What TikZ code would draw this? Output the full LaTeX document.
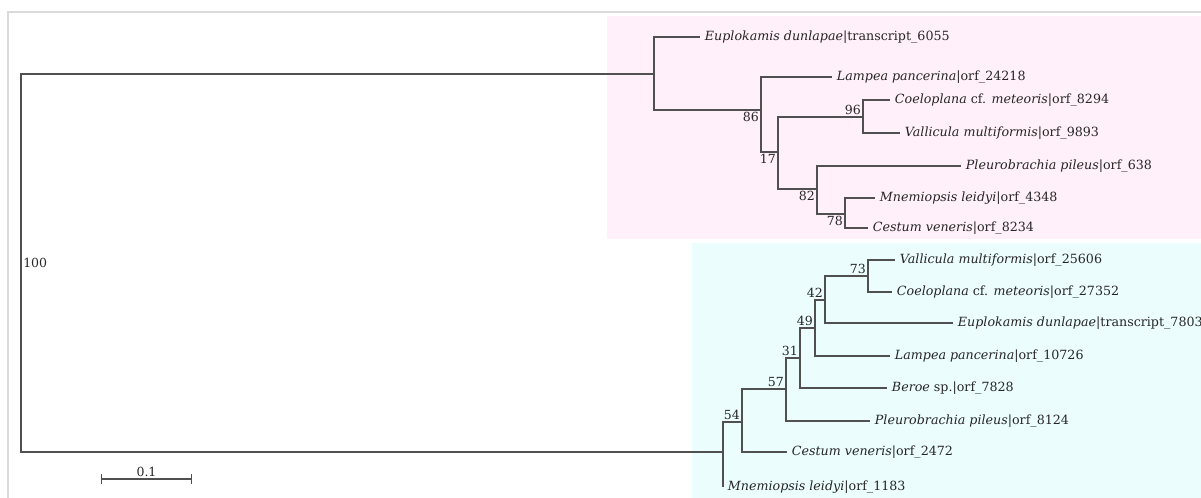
\documentclass[tikz,border=0pt]{standalone}
\usepackage{fontspec}
\setmainfont{DejaVu Serif}
\usepackage{tikz}
\usetikzlibrary{arrows.meta,calc}
\definecolor{cladepink}{RGB}{255,240,249}
\definecolor{cladecyan}{RGB}{236,253,254}
\definecolor{framegray}{RGB}{218,218,218}
\definecolor{branchgray}{RGB}{80,80,80}

\begin{document}
\begin{tikzpicture}[x=0.75pt, y=-0.75pt,
  branch/.style={line width=1.1pt, branchgray},
  leaf/.style={anchor=west, inner sep=3.5pt, text=black!85, font=\fontsize{9.5}{10}\selectfont},
  support/.style={inner sep=1.5pt, text=black!85, font=\fontsize{9.4}{10}\selectfont}]
\useasboundingbox (0,0) rectangle (1201,498);
\fill[cladepink] (607,16) rectangle (1201,239);
\fill[cladecyan] (692,243) rectangle (1201,498);
\draw[framegray, line width=0.9pt] (8,498) -- (8,12) -- (1201,12);

% inner nodes
\coordinate (root) at (21,263);
\coordinate (top) at (654,74);
\coordinate (n86) at (761,110);
\coordinate (n17) at (778,152);
\coordinate (n96) at (863,117);
\coordinate (n82) at (817,189);
\coordinate (n78) at (845,214);
\coordinate (bot) at (723,452);
\coordinate (n54) at (742,422);
\coordinate (n57) at (786,389);
\coordinate (n31) at (800,358);
\coordinate (n49) at (815,328);
\coordinate (n42) at (825,300);
\coordinate (n73) at (868,276);

% leaves
\node[leaf] (eupA) at (700,37) {\textit{Euplokamis dunlapae}|transcript\_6055};
\node[leaf] (lamA) at (832,77) {\textit{Lampea pancerina}|orf\_24218};
\node[leaf] (coeA) at (890,100) {\textit{Coeloplana} cf. \textit{meteoris}|orf\_8294};
\node[leaf] (valA) at (900,133) {\textit{Vallicula multiformis}|orf\_9893};
\node[leaf] (pleA) at (961,166) {\textit{Pleurobrachia pileus}|orf\_638};
\node[leaf] (mneA) at (875,198) {\textit{Mnemiopsis leidyi}|orf\_4348};
\node[leaf] (cesA) at (868,228) {\textit{Cestum veneris}|orf\_8234};
\node[leaf] (valB) at (895,260) {\textit{Vallicula multiformis}|orf\_25606};
\node[leaf] (coeB) at (892,292) {\textit{Coeloplana} cf. \textit{meteoris}|orf\_27352};
\node[leaf] (eupB) at (953,323) {\textit{Euplokamis dunlapae}|transcript\_7803};
\node[leaf] (lamB) at (890,356) {\textit{Lampea pancerina}|orf\_10726};
\node[leaf] (berB) at (887,388) {\textit{Beroe} sp.|orf\_7828};
\node[leaf] (pleB) at (870,421) {\textit{Pleurobrachia pileus}|orf\_8124};
\node[leaf] (cesB) at (787,452) {\textit{Cestum veneris}|orf\_2472};
\node[leaf] (mneB) at (723,487) {\textit{Mnemiopsis leidyi}|orf\_1183};

% branches
\draw[branch] (root) |- (top);
\draw[branch] (root) |- (bot);
\draw[branch] (top) |- (eupA.west);
\draw[branch] (top) |- (n86);
\draw[branch] (n86) |- (lamA.west);
\draw[branch] (n86) |- (n17);
\draw[branch] (n17) |- (n96);
\draw[branch] (n17) |- (n82);
\draw[branch] (n96) |- (coeA.west);
\draw[branch] (n96) |- (valA.west);
\draw[branch] (n82) |- (pleA.west);
\draw[branch] (n82) |- (n78);
\draw[branch] (n78) |- (mneA.west);
\draw[branch] (n78) |- (cesA.west);
\draw[branch] (bot) |- (n54);
\draw[branch] (bot) |- (mneB.west);
\draw[branch] (n54) |- (n57);
\draw[branch] (n54) |- (cesB.west);
\draw[branch] (n57) |- (n31);
\draw[branch] (n57) |- (pleB.west);
\draw[branch] (n31) |- (n49);
\draw[branch] (n31) |- (berB.west);
\draw[branch] (n49) |- (n42);
\draw[branch] (n49) |- (lamB.west);
\draw[branch] (n42) |- (n73);
\draw[branch] (n42) |- (eupB.west);
\draw[branch] (n73) |- (valB.west);
\draw[branch] (n73) |- (coeB.west);

% support values
\node[support, anchor=west] (s100) at (root) {100};
\node[support, anchor=north east] (s86) at (n86) {86};
\node[support, anchor=north east] (s17) at (n17) {17};
\node[support, anchor=south east] (s96) at (n96) {96};
\node[support, anchor=north east] (s82) at (n82) {82};
\node[support, anchor=north east] (s78) at (n78) {78};
\node[support, anchor=south east] (s73) at (n73) {73};
\node[support, anchor=south east] (s42) at (n42) {42};
\node[support, anchor=south east] (s49) at (n49) {49};
\node[support, anchor=south east] (s31) at (n31) {31};
\node[support, anchor=south east] (s57) at (n57) {57};
\node[support, anchor=south east] (s54) at (n54) {54};

% scale
\coordinate (barL) at (101,479);
\coordinate (barR) at (192,479);
\draw[branchgray, line width=0.9pt, {Bar[width=7pt]}-{Bar[width=7pt]}] (barL) -- (barR);
\node[support, anchor=south] (barlab) at ($(barL)!0.5!(barR)$) {0.1};
\end{tikzpicture}
\end{document}
